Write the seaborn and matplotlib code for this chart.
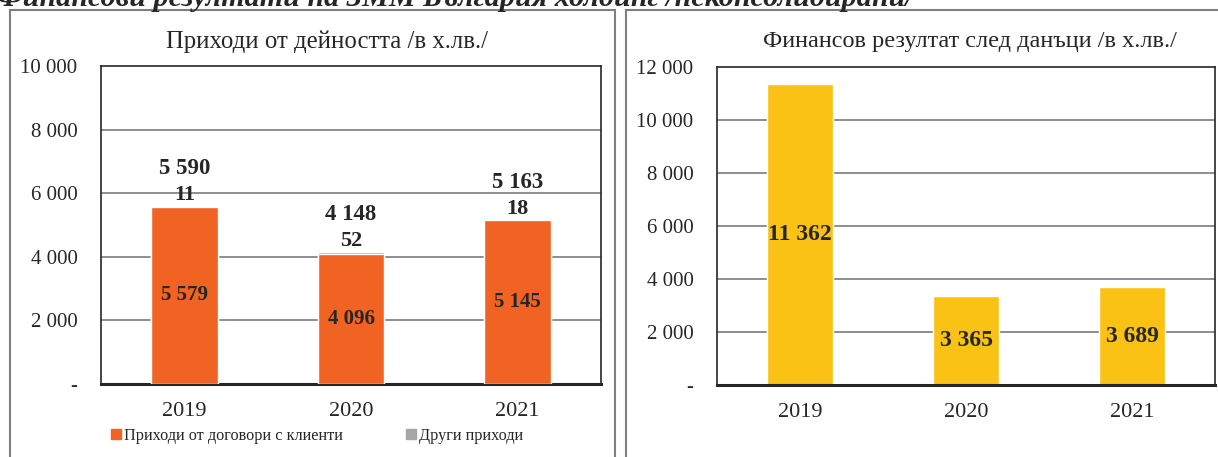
import matplotlib
matplotlib.use("Agg")
import matplotlib.pyplot as plt
import seaborn as sns
import pandas as pd
from matplotlib.patches import Patch, Rectangle

# --- data (хил. лв.) ---
years = ["2019", "2020", "2021"]
contract_revenue = [5579, 4096, 5145]
other_revenue = [11, 52, 18]
net_result = [11362, 3365, 3689]

heading = "Финансови резултати на ЗММ България холдинг /неконсолидирани/"
title_left = "Приходи от дейността /в х.лв./"
title_right = "Финансов резултат след данъци /в х.лв./"
legend_labels = ["Приходи от договори с клиенти", "Други приходи"]

ORANGE = "#F16323"
GREY = "#A6A6A6"
YELLOW = "#FAC214"
INK = "#262626"

sns.set_theme(style="white")
plt.rcParams["font.family"] = ["Liberation Serif", "DejaVu Serif"]

df = pd.DataFrame({
    "year": years,
    "contracts": contract_revenue,
    "other": other_revenue,
    "result": net_result,
})
df["total"] = df["contracts"] + df["other"]

W, H = 1218, 457
fig = plt.figure(figsize=(W / 100, H / 100), dpi=100)


def px_axes(x0, y0, x1, y1):
    return fig.add_axes([x0 / W, 1 - y1 / H, (x1 - x0) / W, (y1 - y0) / H])


def fmt(v):
    return "-" if v == 0 else f"{v:,.0f}".replace(",", " ")


def style_axes(ax, ymax, step):
    ax.set_ylim(0, ymax)
    ticks = list(range(0, ymax + 1, step))
    ax.set_yticks(ticks)
    ax.set_yticklabels([fmt(t) for t in ticks], fontsize=15, color=INK)
    ax.tick_params(axis="y", length=0, pad=17)
    ax.tick_params(axis="x", length=0, pad=13, labelsize=16, labelcolor=INK)
    ax.set_xlabel("")
    ax.set_ylabel("")
    ax.set_xlim(-0.5, 2.5)
    for t in ticks[1:-1]:
        ax.axhline(t, color="#858585", lw=1.3, zorder=0)
    for side in ["top", "left", "right"]:
        ax.spines[side].set_visible(True)
        ax.spines[side].set_color(INK)
        ax.spines[side].set_linewidth(1.2)
    ax.spines["bottom"].set_color(INK)
    ax.spines["bottom"].set_linewidth(2.2)


# panel frames
fig.add_artist(Rectangle((10 / W, -0.05), 605 / W, 1.05 - 10 / H, transform=fig.transFigure,
                         fill=False, ec="#7F7F7F", lw=1.5))
fig.add_artist(Rectangle((626 / W, -0.05), 0.6, 1.05 - 10 / H, transform=fig.transFigure,
                         fill=False, ec="#7F7F7F", lw=1.5))

# heading is partly cut off at the top, as in the source page
fig.text(-3 / W, 1 - 6 / H, heading, fontsize=21.7, fontweight="bold", fontstyle="italic",
         ha="left", va="baseline", color=INK)

# --- left: revenue, stacked ---
ax1 = px_axes(101, 66, 601, 384)
sns.barplot(data=df, x="year", y="total", color=GREY, width=0.4, saturation=1, ax=ax1, zorder=2)
sns.barplot(data=df, x="year", y="contracts", color=ORANGE, width=0.4, saturation=1, ax=ax1, zorder=3)
style_axes(ax1, 10000, 2000)
for i, row in df.iterrows():
    ax1.text(i, row["contracts"] / 2, fmt(row["contracts"]), ha="center", va="center",
             fontsize=15, fontweight="bold", color=INK, zorder=4)
    ax1.annotate(fmt(row["other"]), (i, row["total"]), xytext=(0, 8), textcoords="offset points",
                 ha="center", va="center", fontsize=16, fontweight="bold", color=INK)
    ax1.annotate(fmt(row["total"]), (i, row["total"]), xytext=(0, 27), textcoords="offset points",
                 ha="center", va="center", fontsize=16.5, fontweight="bold", color=INK)
fig.text(327 / W, 1 - 42 / H, title_left, fontsize=17.8, ha="center", va="center", color=INK)

handles = [Patch(color=ORANGE), Patch(color=GREY)]
fig.legend(handles, legend_labels, loc="center left", bbox_to_anchor=(111 / W, 1 - 436 / H),
           ncol=2, frameon=False, fontsize=11.7, handlelength=0.6, handleheight=0.6,
           handletextpad=0.2, columnspacing=3.9, borderaxespad=0, borderpad=0)

# --- right: net result ---
ax2 = px_axes(717, 67, 1215, 385)
sns.barplot(data=df, x="year", y="result", color=YELLOW, width=0.4, saturation=1, ax=ax2, zorder=2)
style_axes(ax2, 12000, 2000)
for i, row in df.iterrows():
    ax2.text(i, row["result"] / 2, fmt(row["result"]), ha="center", va="center",
             fontsize=17, fontweight="bold", color=INK, zorder=4)
fig.text(970 / W, 1 - 42 / H, title_right, fontsize=17.5, ha="center", va="center", color=INK)

fig.savefig("out.png", dpi=100)
